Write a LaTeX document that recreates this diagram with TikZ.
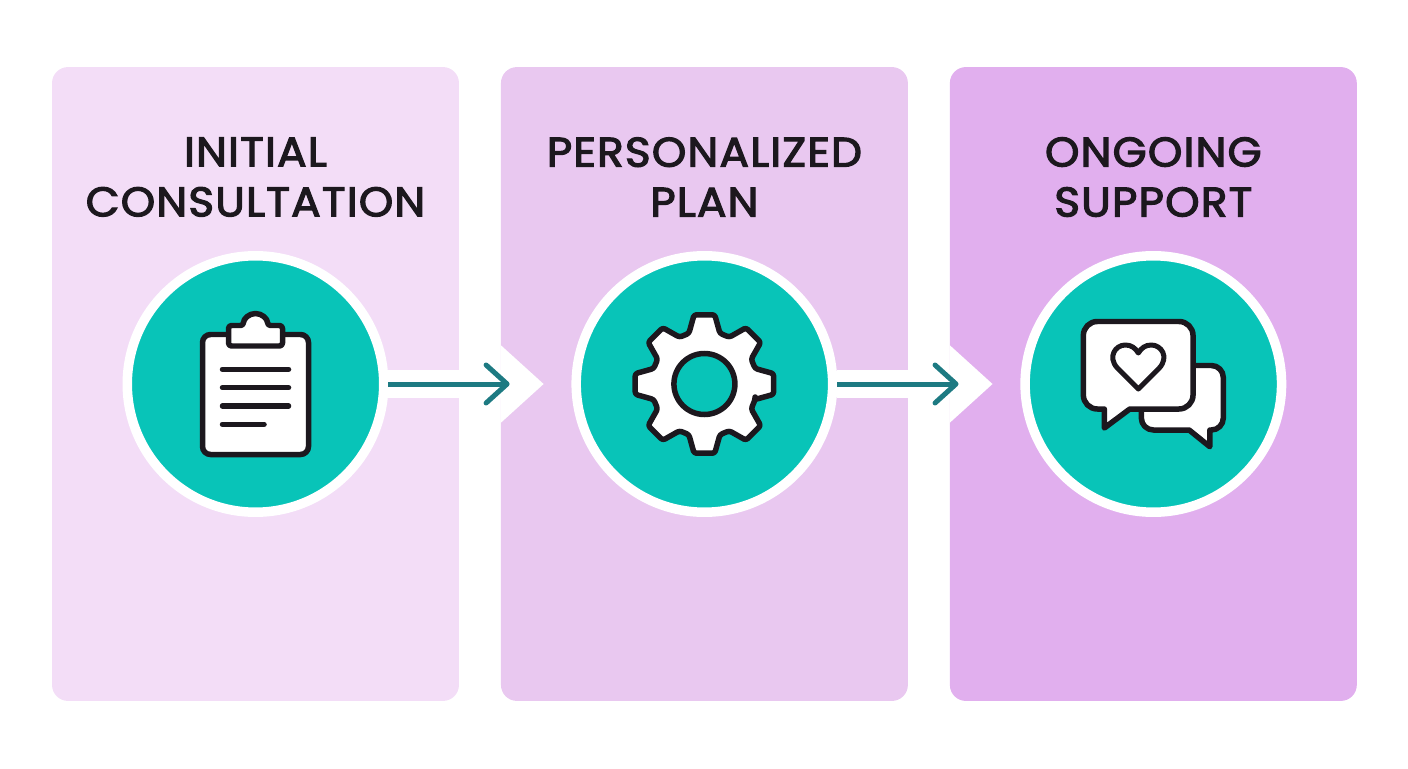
\documentclass[tikz,border=0pt]{standalone}
\usepackage{fontspec}
\setmainfont{Poppins}[FakeBold=3, FakeStretch=1.06, LetterSpace=3]
\usepackage{tikz}
\definecolor{panelA}{HTML}{F3DDF7}
\definecolor{panelB}{HTML}{E9C8F0}
\definecolor{panelC}{HTML}{E1AFEE}
\definecolor{teal}{HTML}{08C4B8}
\definecolor{flowteal}{HTML}{1D7A82}
\definecolor{ink}{HTML}{1C181E}
\usetikzlibrary{positioning, calc, arrows.meta}

\begin{document}
\begin{tikzpicture}[
	panel/.style={rectangle, rounded corners=0.32cm, minimum width=8.14cm, minimum height=12.68cm, inner sep=0},
	hub/.style={circle, draw=white, line width=0.19cm, fill=teal, minimum size=5.13cm, inner sep=0},
	title/.style={align=center, text=ink, font=\fontsize{23.5}{28.45}\selectfont},
	band/.style={white, line width=0.56cm},
	flow/.style={flowteal, line width=0.1cm, -{Straight Barb[length=0.42cm, width=0.76cm, round]}},
	icon/.style={draw=ink, fill=white, line width=0.11cm, line join=round},
	iconline/.style={ink, line width=0.11cm, line cap=round},
	x=0.02cm, y=0.02cm, node distance=8.98cm]
	\useasboundingbox (0,0) rectangle (1408,768);
	\node[panel, fill=panelA] (P1) at (255.5,384) {};
	\node[panel, fill=panelB, right of=P1] (P2) {};
	\node[panel, fill=panelC, right of=P2] (P3) {};
	\node[hub] (H1) at (P1.center) {};
	\node[hub] (H2) at (P2.center) {};
	\node[hub] (H3) at (P3.center) {};
	\node[title, above of=H1, node distance=4.14cm] (T1) {INITIAL\\CONSULTATION};
	\node[title, above of=H2, node distance=4.14cm] (T2) {PERSONALIZED\\PLAN};
	\node[title, above of=H3, node distance=4.14cm] (T3) {ONGOING\\SUPPORT};
	\coordinate[right=0.18cm of P2.west] (N1);
	\coordinate[right=0.18cm of P3.west] (N2);
	% white passage and notch behind each arrow
	\fill[white] ($(P2.west)+(0,39)$) -- ($(P2.west)+(43,0)$) -- ($(P2.west)+(0,-39)$) -- cycle;
	\fill[white] ($(P3.west)+(0,39)$) -- ($(P3.west)+(43,0)$) -- ($(P3.west)+(0,-39)$) -- cycle;
	\draw[band] (H1) -- (P2);
	\draw[band] (H2) -- (P3);
	\draw[flow] (H1) -- (N1);
	\draw[flow] (H2) -- (N2);
	% clipboard
	\begin{scope}[shift={(H1.center)}]
		\draw[icon, rounded corners=0.16cm] (-53,-70.5) rectangle (53,49.5);
		\draw[icon, rounded corners=0.06cm] (-27,38) -- (-27,58.5) -- (-12,58.5) arc[start angle=180, end angle=0, radius=12] -- (27,58.5) -- (27,38) -- cycle;
		\foreach \y/\e in {14.7/33, -3.7/33, -22/33, -40.3/8.5}
			\draw[iconline] (-33,\y) -- (\e,\y);
	\end{scope}
	% gear
	\begin{scope}[shift={(H2.center)}]
		\draw[icon, rounded corners=0.05cm] (-17:53) \foreach \a in {0,45,...,315} { -- (\a-8.5:70) -- (\a+8.5:70) -- (\a+17:53) -- (\a+28:53) } -- cycle;
		\draw[draw=ink, fill=teal, line width=0.11cm] (0,0) circle (30.5);
	\end{scope}
	% speech bubbles
	\begin{scope}[shift={(H3.center)}]
		\draw[icon] (-12,-25) -- (-12,-34) arc[start angle=180, end angle=270, radius=12] -- (35.8,-46) -- (56.5,-62.7) -- (56.5,-46) -- (58,-46) arc[start angle=-90, end angle=0, radius=12] -- (70,6.5) arc[start angle=0, end angle=90, radius=12] -- (20,18.5) -- cycle;
		\draw[icon] (-49,-25) -- (-49,-44) -- (-23.5,-25) -- (25.7,-25) arc[start angle=-90, end angle=0, radius=14] -- (39.7,48.5) arc[start angle=0, end angle=90, radius=14] -- (-56,62.5) arc[start angle=90, end angle=180, radius=14] -- (-70,-11) arc[start angle=180, end angle=270, radius=14] -- cycle;
		\draw[draw=ink, line width=0.1cm, line join=round] (-15,-5) -- (-36,16) .. controls (-46,27) and (-38,39) .. (-28,39) .. controls (-22,39) and (-18,36) .. (-15,31) .. controls (-12,36) and (-8,39) .. (-2,39) .. controls (8,39) and (16,27) .. (6,16) -- cycle;
	\end{scope}
\end{tikzpicture}
\end{document}
